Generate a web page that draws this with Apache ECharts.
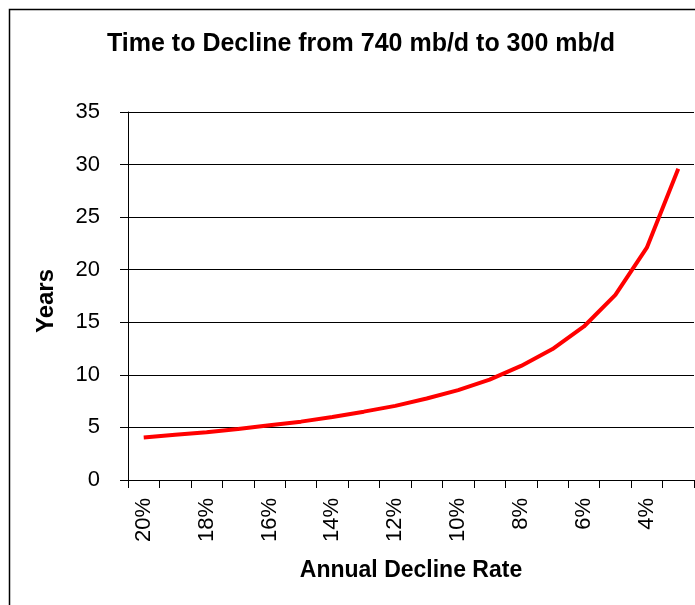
<!DOCTYPE html>
<html>
<head>
<meta charset="utf-8">
<script src="https://cdn.jsdelivr.net/npm/echarts@6/dist/echarts.min.js"></script>
<style>
html,body{margin:0;padding:0;background:#fff;}
#chart{width:695px;height:605px;}
</style>
</head>
<body>
<div id="chart"></div>
<script>
var categories = ['20%','19%','18%','17%','16%','15%','14%','13%','12%','11%','10%','9%','8%','7%','6%','5%','4%','3%'];
var years = [4.05, 4.3, 4.55, 4.85, 5.2, 5.55, 6.0, 6.5, 7.05, 7.75, 8.55, 9.55, 10.85, 12.45, 14.6, 17.6, 22.1, 29.6];
var yTicks = [0, 5, 10, 15, 20, 25, 30, 35];

var chart = echarts.init(document.getElementById('chart'));
var font = 'Liberation Sans, Arial, sans-serif';
chart.setOption({
  animation: false,
  backgroundColor: '#fff',
  title: {
    text: 'Time to Decline from 740 mb/d to 300 mb/d',
    left: 356,
    top: 27,
    textAlign: 'center',
    textStyle: { fontFamily: font, fontWeight: 'bold', fontSize: 25, color: '#000' }
  },
  graphic: [{
    type: 'rect',
    shape: { x: 9.5, y: 9.5, width: 800, height: 800 },
    style: { fill: 'none', stroke: '#000', lineWidth: 1.5 },
    silent: true
  }],
  grid: { left: 128, right: 1, top: 112, bottom: 125 },
  xAxis: {
    type: 'category',
    data: categories,
    boundaryGap: true,
    name: 'Annual Decline Rate',
    nameLocation: 'middle',
    nameGap: 79,
    nameTextStyle: { fontFamily: font, fontWeight: 'bold', fontSize: 23, color: '#000' },
    axisLine: { lineStyle: { color: '#000', width: 1 } },
    axisTick: { show: true, length: 8, interval: 0, lineStyle: { color: '#000' } },
    axisLabel: { interval: 1, rotate: 90, margin: 18, fontFamily: font, fontSize: 22, color: '#000' },
    splitLine: { show: false }
  },
  yAxis: {
    type: 'value',
    min: yTicks[0],
    max: yTicks[yTicks.length - 1],
    interval: 5,
    name: 'Years',
    nameLocation: 'middle',
    nameGap: 70,
    nameTextStyle: { fontFamily: font, fontWeight: 'bold', fontSize: 24, color: '#000', padding: [0, 10, 0, 0] },
    axisLine: { show: true, lineStyle: { color: '#000', width: 1 } },
    axisTick: { show: true, length: 8, lineStyle: { color: '#000' } },
    axisLabel: { margin: 28, fontFamily: font, fontSize: 22, color: '#000' },
    splitLine: { show: true, lineStyle: { color: '#000', width: 1 } }
  },
  series: [{
    type: 'line',
    data: years,
    showSymbol: false,
    symbol: 'none',
    lineStyle: { color: '#ff0000', width: 4 },
    itemStyle: { color: '#ff0000' }
  }]
});
</script>
</body>
</html>
